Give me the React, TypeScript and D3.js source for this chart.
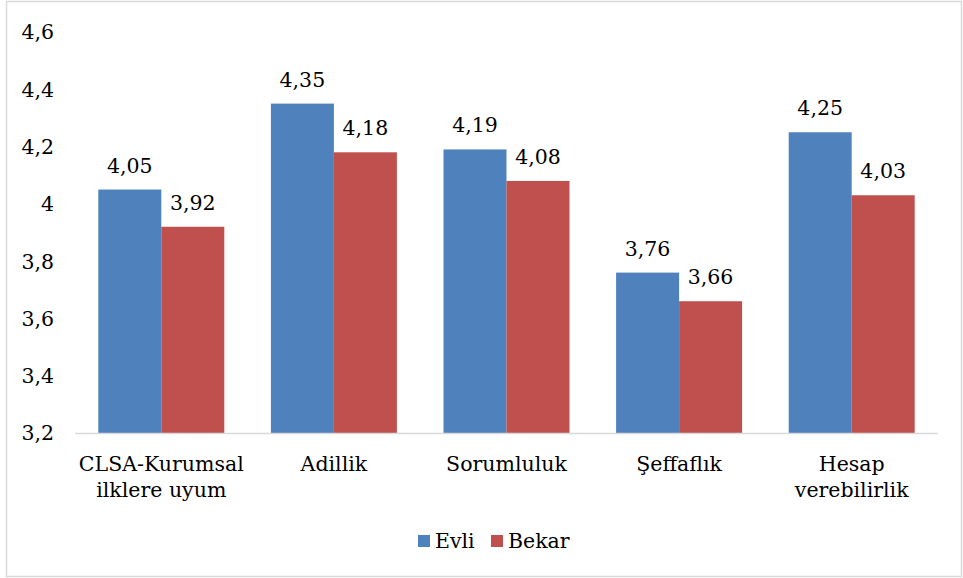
import React from "react";
import * as d3 from "d3";

const categories: string[][] = [
  ["CLSA-Kurumsal", "ilklere uyum"],
  ["Adillik"],
  ["Sorumluluk"],
  ["Şeffaflık"],
  ["Hesap", "verebilirlik"],
];
const seriesNames = ["Evli", "Bekar"];
const evli = [4.05, 4.35, 4.19, 3.76, 4.25];
const bekar = [3.92, 4.18, 4.08, 3.66, 4.03];
const yTicks = [3.2, 3.4, 3.6, 3.8, 4, 4.2, 4.4, 4.6];
const colors = ["#4F81BD", "#C0504D"];

const W = 963;
const H = 578;
const FS = 20.5;
const textStyle: React.CSSProperties = {
  fontFamily: '"DejaVu Serif", serif',
  fontSize: FS,
};

const fmt = (v: number) => String(v).replace(".", ",");

export default function App() {
  const keys = categories.map((c) => c.join(" "));
  const x = d3
    .scaleBand<string>()
    .domain(keys)
    .range([75, 938])
    .paddingInner(0.27)
    .paddingOuter(0.135);
  const xs = d3.scaleBand<string>().domain(seriesNames).range([0, x.bandwidth()]);
  const y = d3.scaleLinear().domain([3.2, 4.6]).range([433, 32]);
  const values = [evli, bekar];

  return (
    <svg width={W} height={H} style={{ position: "absolute", left: 0, top: 0 }}>
      <rect x={0} y={0} width={W} height={H} fill="#fff" />
      <rect x={6.5} y={1.5} width={955} height={575} fill="none" stroke="#d9d9d9" strokeWidth={1.5} />

      {yTicks.map((t) => (
        <text key={t} x={54} y={y(t)} dy="0.36em" textAnchor="end" style={textStyle} fill="#000">
          {fmt(t)}
        </text>
      ))}

      {keys.map((k, i) =>
        seriesNames.map((s, j) => {
          const v = values[j][i];
          const bx = (x(k) as number) + (xs(s) as number);
          return (
            <g key={k + s}>
              <rect x={bx} y={y(v)} width={xs.bandwidth()} height={y(3.2) - y(v)} fill={colors[j]} />
              <text
                x={bx + xs.bandwidth() / 2}
                y={y(v) - 17}
                textAnchor="middle"
                style={textStyle}
                fill="#000"
              >
                {fmt(v)}
              </text>
            </g>
          );
        })
      )}

      <line x1={75} x2={938} y1={433.5} y2={433.5} stroke="#d9d9d9" strokeWidth={1.5} />

      {categories.map((lines, i) => {
        const cx = (x(keys[i]) as number) + x.bandwidth() / 2;
        return (
          <text key={keys[i]} textAnchor="middle" style={textStyle} fill="#000">
            {lines.map((ln, li) => (
              <tspan key={li} x={cx} y={471 + li * 26}>
                {ln}
              </tspan>
            ))}
          </text>
        );
      })}

      {seriesNames.map((s, j) => {
        const lx = j === 0 ? 418 : 491;
        return (
          <g key={s}>
            <rect x={lx} y={535} width={12} height={12} fill={colors[j]} />
            <text x={lx + 17} y={548} style={textStyle} fill="#000">
              {s}
            </text>
          </g>
        );
      })}
    </svg>
  );
}
